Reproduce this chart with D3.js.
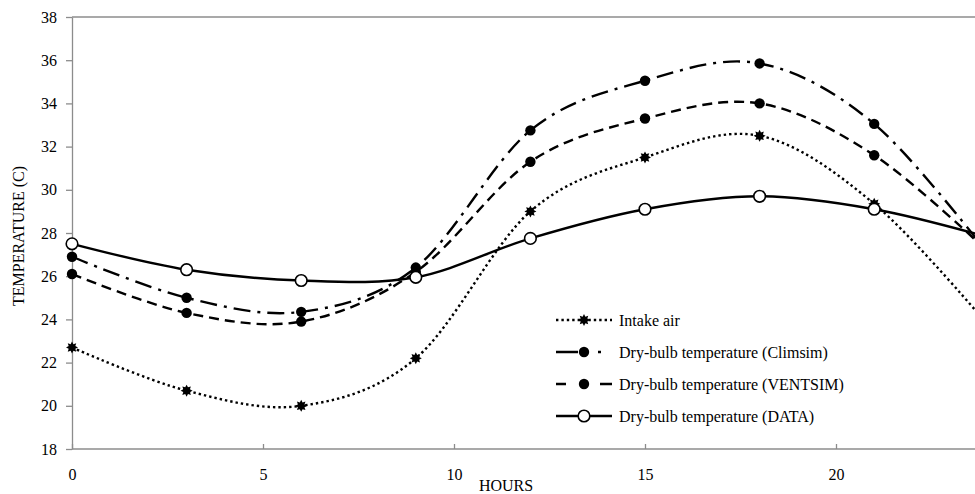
<!DOCTYPE html>
<meta charset="utf-8">
<style>
body { margin: 0; background: #fff; }
text { font-family: "Liberation Serif", "Times New Roman", serif; fill: #000; }
.axis path, .axis line { stroke: #8c8c8c; stroke-width: 1.3px; }
.axis text { font-size: 16px; font-family: "Liberation Serif", "Times New Roman", serif; }
.series { fill: none; stroke: #000; stroke-width: 2.4px; }
</style>
<body>
<script src="https://d3js.org/d3.v7.min.js"></script>
<script>

// data
const hours = [0, 3, 6, 9, 12, 15, 18, 21, 24];
const intakeAir = [22.7, 20.7, 20.0, 22.2, 29.0, 31.5, 32.5, 29.35, 23.7];
const climsim = [26.9, 25.0, 24.35, 26.4, 32.75, 35.05, 35.85, 33.05, 27.0];
const ventsim = [26.1, 24.3, 23.9, 26.2, 31.3, 33.3, 34.0, 31.6, 27.1];
const measured = [27.5, 26.3, 25.8, 25.95, 27.75, 29.1, 29.7, 29.1, 27.8];

const xTicks = [0, 5, 10, 15, 20];
const yTicks = [18, 20, 22, 24, 26, 28, 30, 32, 34, 36, 38];

const seriesNames = [
  "Intake air",
  "Dry-bulb temperature (Climsim)",
  "Dry-bulb temperature (VENTSIM)",
  "Dry-bulb temperature (DATA)"
];

const W = 975, H = 494;
const margin = {top: 17, left: 72};
const plotBottom = 449;

// x axis runs past the right edge of the picture (cropped)
const x = d3.scaleLinear().domain([0, 24]).range([margin.left, margin.left + 24 * 38.2]);
const y = d3.scaleLinear().domain([18, 38]).range([plotBottom, margin.top]);

const svg = d3.select("body").append("svg")
    .attr("width", W)
    .attr("height", H);

// plot frame top edge
svg.append("line")
    .attr("x1", margin.left).attr("x2", W)
    .attr("y1", margin.top).attr("y2", margin.top)
    .attr("stroke", "#8c8c8c").attr("stroke-width", 1.3);

// axes
svg.append("g")
    .attr("class", "axis")
    .attr("transform", "translate(" + margin.left + ",0)")
    .call(d3.axisLeft(y).tickValues(yTicks).tickSizeInner(6).tickSizeOuter(0).tickPadding(9));

const xAxis = svg.append("g")
    .attr("class", "axis")
    .attr("transform", "translate(0," + plotBottom + ")")
    .call(d3.axisBottom(x).tickValues(xTicks).tickSizeInner(-5).tickSizeOuter(0).tickPadding(20));
xAxis.select(".domain").attr("d", "M" + margin.left + ",0H" + W);

// axis titles
svg.append("text")
    .attr("transform", "translate(24,236) rotate(-90)")
    .attr("text-anchor", "middle")
    .style("font-size", "16px")
    .text("TEMPERATURE (C)");

svg.append("text")
    .attr("x", 506).attr("y", 491)
    .attr("text-anchor", "middle")
    .style("font-size", "16px")
    .text("HOURS");

// markers
const burst = (() => {
  const pts = [];
  for (let i = 0; i < 16; i++) {
    const a = i * Math.PI / 8, r = i % 2 ? 3.6 : 6;
    pts.push([r * Math.sin(a), -r * Math.cos(a)]);
  }
  return "M" + pts.join("L") + "Z";
})();

const series = [
  {values: intakeAir, dash: "2.4 3", legendDash: "2.4 3", marker: "burst"},
  {values: climsim, dash: "17 7 3 7", legendDash: "22 20 3 100", marker: "dot"},
  {values: ventsim, dash: "10 6", legendDash: "10 34 12", marker: "dot"},
  {values: measured, dash: null, legendDash: null, marker: "open"}
];

const line = d3.line()
    .x((d, i) => x(hours[i]))
    .y(d => y(d))
    .curve(d3.curveCardinal.tension(0));

function drawMarker(g, m) {
  if (m === "burst") {
    g.append("path").attr("d", burst).attr("fill", "#000");
  } else if (m === "dot") {
    g.append("circle").attr("r", 5.2).attr("fill", "#000");
  } else {
    g.append("circle").attr("r", 5.8).attr("fill", "#fff")
        .attr("stroke", "#000").attr("stroke-width", 1.6);
  }
}

series.forEach(s => {
  svg.append("path")
      .datum(s.values)
      .attr("class", "series")
      .attr("d", line)
      .attr("stroke-dasharray", s.dash);
  s.values.forEach((v, i) => {
    const g = svg.append("g").attr("transform", "translate(" + x(hours[i]) + "," + y(v) + ")");
    drawMarker(g, s.marker);
  });
});

// legend
const legend = svg.append("g");
series.forEach((s, i) => {
  const ly = 320 + i * 32;
  legend.append("line")
      .attr("class", "series")
      .attr("x1", 556).attr("x2", 612)
      .attr("y1", ly).attr("y2", ly)
      .attr("stroke-dasharray", s.legendDash);
  const g = legend.append("g").attr("transform", "translate(584," + ly + ")");
  drawMarker(g, s.marker);
  legend.append("text")
      .attr("x", 619).attr("y", ly + 5.5)
      .style("font-size", "16px")
      .text(seriesNames[i]);
});

</script>
</body>
